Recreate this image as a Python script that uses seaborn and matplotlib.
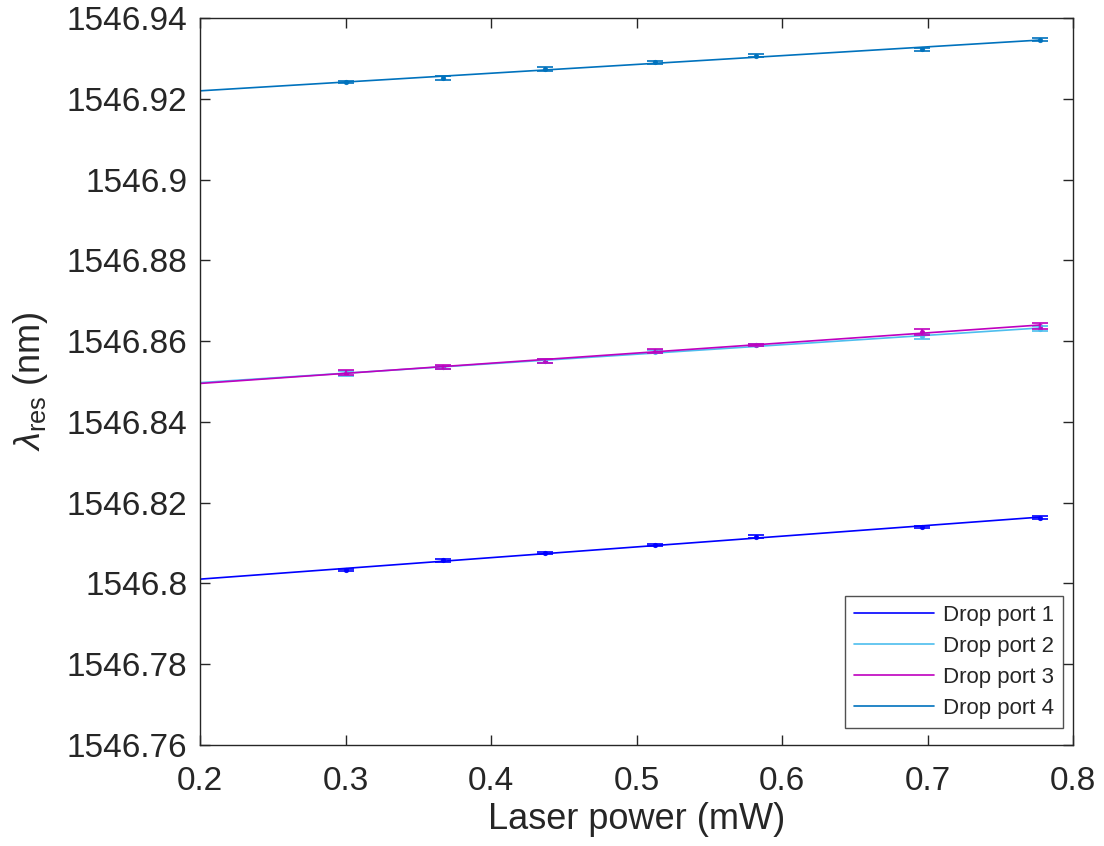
import numpy as np
import pandas as pd
import seaborn as sns
import matplotlib
matplotlib.use("Agg")
from matplotlib import pyplot as plt

sns.set_style("ticks")
plt.rcParams['font.family'] = ['Liberation Sans', 'DejaVu Sans']
plt.rcParams['mathtext.fontset'] = 'custom'
plt.rcParams['mathtext.rm'] = 'Liberation Sans'
plt.rcParams['mathtext.it'] = 'Liberation Sans:italic'

# laser power (mW)
power = [0.300, 0.367, 0.437, 0.513, 0.582, 0.696, 0.777]

# resonance wavelength (nm) per drop port
port1 = [1546.8033, 1546.8057, 1546.8075, 1546.8095, 1546.8116, 1546.8140, 1546.8163]
port2 = [1546.8520, 1546.8535, 1546.8551, 1546.8574, 1546.8590, 1546.8612, 1546.8631]
port3 = [1546.8522, 1546.8536, 1546.8551, 1546.8576, 1546.8591, 1546.8622, 1546.8638]
port4 = [1546.9242, 1546.9251, 1546.9274, 1546.9290, 1546.9307, 1546.9323, 1546.9346]

# error bars (nm)
err1 = [0.0003, 0.0003, 0.0003, 0.0003, 0.0003, 0.0002, 0.0003]
err2 = [0.0006, 0.0004, 0.0004, 0.0004, 0.0003, 0.0006, 0.0006]
err3 = [0.0007, 0.0005, 0.0004, 0.0005, 0.0003, 0.0007, 0.0007]
err4 = [0.0003, 0.0005, 0.0004, 0.0004, 0.0004, 0.0004, 0.0004]

labels = ['Drop port 1', 'Drop port 2', 'Drop port 3', 'Drop port 4']
colors = ['#0000FF', '#4DBEEE', '#BF00BF', '#0072BD']

xticks = [0.2, 0.3, 0.4, 0.5, 0.6, 0.7, 0.8]
yticks = [1546.76, 1546.78, 1546.8, 1546.82, 1546.84, 1546.86, 1546.88,
          1546.9, 1546.92, 1546.94]

fig = plt.figure(figsize=(11.04, 8.46), dpi=100)
ax = fig.add_axes([0.1812, 0.1194, 0.7908, 0.8593])

xfit = np.linspace(0.2, max(power), 50)
for ys, es, lab, c in zip([port1, port2, port3, port4], [err1, err2, err3, err4], labels, colors):
    p = np.polyfit(power, ys, 1)
    sns.lineplot(x=xfit, y=np.polyval(p, xfit), color=c, lw=1.2, ax=ax, label=lab)
    ax.errorbar(power, ys, yerr=es, fmt='none', ecolor=c, elinewidth=1.2, capsize=6, capthick=1.2)
    sns.scatterplot(x=power, y=ys, color=c, s=12, marker='o', edgecolor=c, ax=ax)

ax.set_xlim(0.2, 0.8)
ax.set_ylim(1546.76, 1546.94)
ax.set_xticks(xticks)
ax.set_yticks(yticks)
ax.set_xticklabels(['%g' % v for v in xticks])
ax.set_yticklabels(['%g' % v for v in yticks])
ax.tick_params(direction='in', length=7, width=1, labelsize=24, colors='#262626',
               top=True, right=True, pad=9)
ax.tick_params(axis='x', pad=15)
for s in ax.spines.values():
    s.set_color('#262626')
    s.set_linewidth(1)

ax.set_xlabel('Laser power (mW)', fontsize=26, color='#262626', labelpad=4)
ax.set_ylabel(r'$\lambda_{\mathrm{res}}$ (nm)', fontsize=26, color='#262626', labelpad=12)

leg = ax.legend(loc='lower right', bbox_to_anchor=(0.9885, 0.0234), fontsize=16,
                frameon=True, fancybox=False, edgecolor='#262626', handlelength=3.6,
                borderaxespad=0, labelspacing=0.45, borderpad=0.4, handletextpad=0.4)
leg.get_frame().set_linewidth(1)

fig.savefig('out.png', dpi=100)
